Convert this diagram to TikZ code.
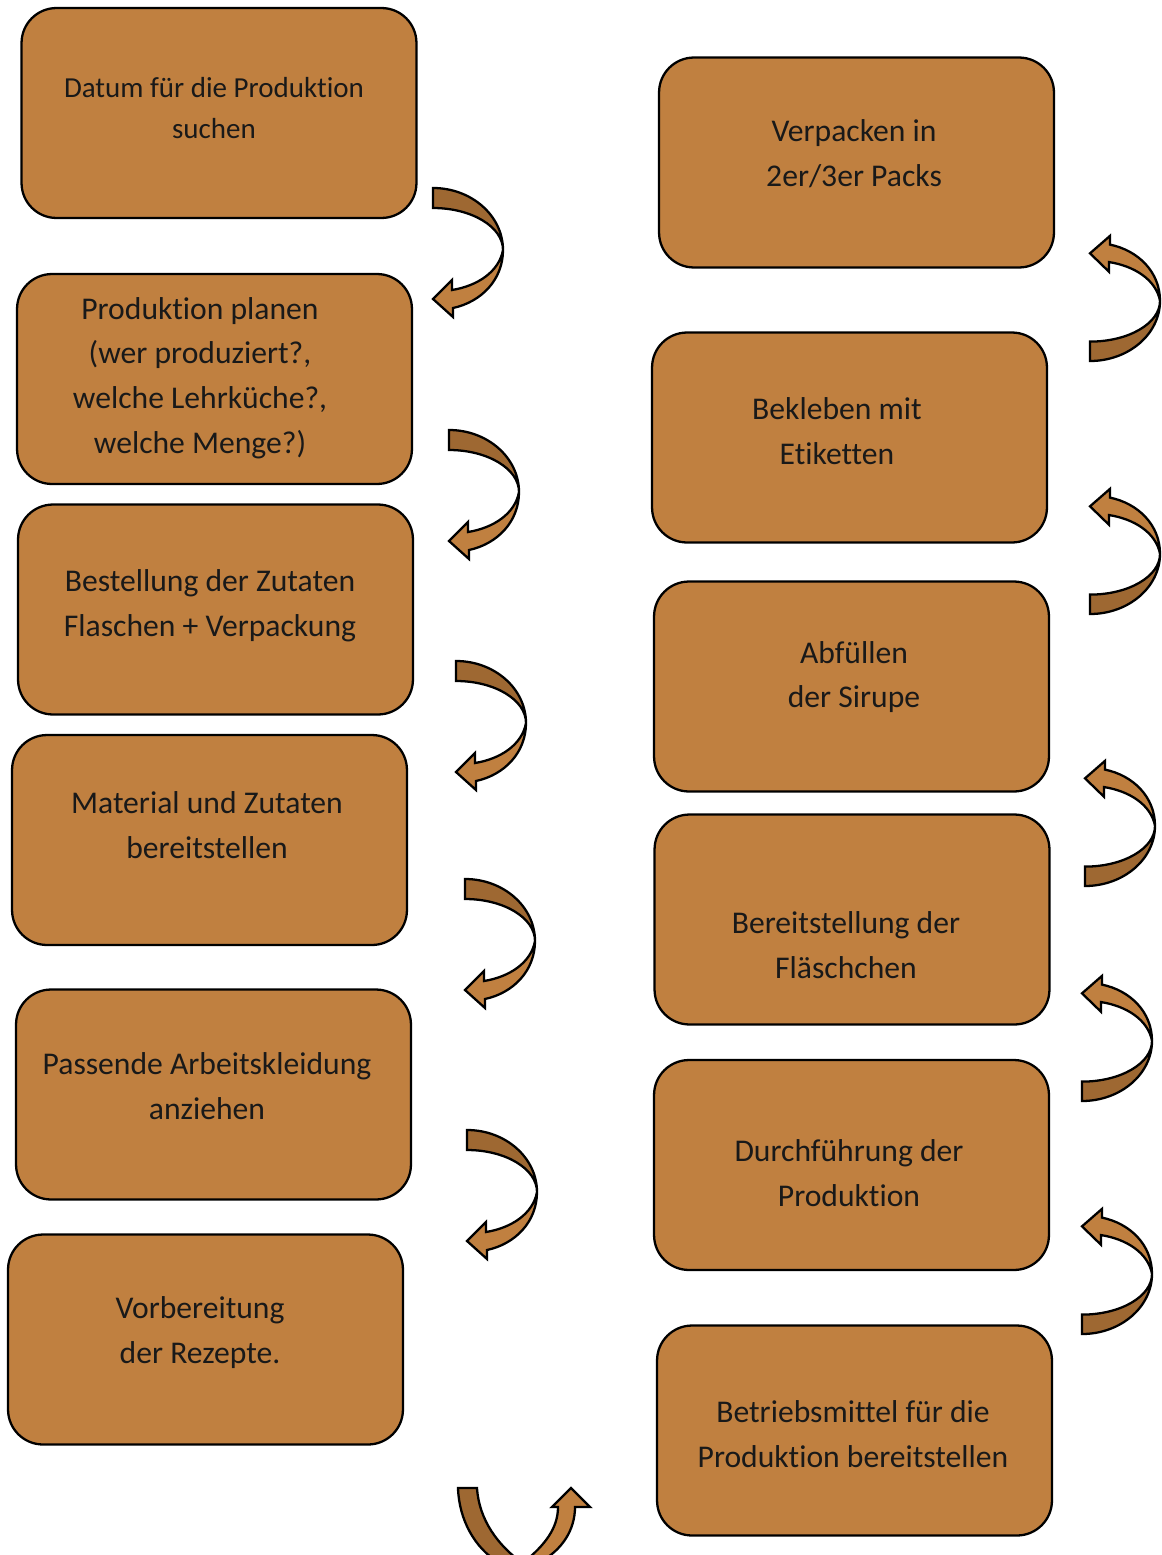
\documentclass[tikz,border=0pt]{standalone}
\usepackage{fontspec}
\setmainfont{Carlito}[Ligatures=NoCommon]

\definecolor{boxcolor}{RGB}{192,128,64}
\definecolor{arrowdark}{RGB}{158,104,50}

\begin{document}
\begin{tikzpicture}[x=0.02cm, y=-0.02cm,
  stepbox/.style={draw, line width=1.3pt, fill=boxcolor, rounded corners=0.7cm,
    minimum width=7.9cm, minimum height=4.2cm},
  steptext/.style={align=center, text=black!90, font=\fontsize{18}{25.5}\selectfont},
  turn/.pic={
    \draw[line width=1.3pt, fill=arrowdark] (0,0) .. controls (38.6,0) and (70,27.8) .. (70,62)
      .. controls (70,38.8) and (38.6,20) .. (0,20) -- cycle;
    \draw[line width=1.3pt, fill=boxcolor] (70,62) .. controls (70,92) and (48,114) .. (20,120)
      -- (20,129) -- (0,111) -- (19,92) -- (19,102) .. controls (44,98) and (66,84) .. (70,62) -- cycle;
  }]
\useasboundingbox (0,0) rectangle (1161,1555);

% left column
\node[stepbox] (datum) at (219,113) {};
\node[steptext, font=\fontsize{16.5}{23.2}\selectfont] (datumtext) at (214,108) {Datum für die Produktion\\suchen};

\node[stepbox] (planen) at (214.5,379) {};
\node[steptext] (planentext) at (200,378) {Produktion planen\\(wer produziert?,\\welche Lehrküche?,\\welche Menge?)};

\node[stepbox] (bestellung) at (215.5,609.5) {};
\node[steptext] (bestellungtext) at (210,605.5) {Bestellung der Zutaten\\Flaschen + Verpackung};

\node[stepbox] (material) at (209.5,840) {};
\node[steptext] (materialtext) at (207,825) {Material und Zutaten\\bereitstellen};

\node[stepbox] (kleidung) at (213.5,1094.5) {};
\node[steptext] (kleidungtext) at (207,1086) {Passende Arbeitskleidung\\anziehen};

\node[stepbox] (rezepte) at (205.5,1339.5) {};
\node[steptext] (rezeptetext) at (200,1332.5) {Vorbereitung\\der Rezepte.};

% right column
\node[stepbox] (verpacken) at (856.5,162.5) {};
\node[steptext] (verpackentext) at (854,153.5) {Verpacken in\\2er/3er Packs};

\node[stepbox] (bekleben) at (849.5,437.5) {};
\node[steptext] (beklebentext) at (837,431) {Bekleben mit\\Etiketten};

\node[stepbox] (abfuellen) at (851.5,686.5) {};
\node[steptext] (abfuellentext) at (854,677) {Abfüllen\\der Sirupe};

\node[stepbox] (flaeschchen) at (852,919.5) {};
\node[steptext] (flaeschchentext) at (846,945.5) {Bereitstellung der\\Fläschchen};

\node[stepbox] (durchfuehrung) at (851.5,1165) {};
\node[steptext] (durchfuehrungtext) at (849,1173) {Durchführung der\\Produktion};

\node[stepbox] (betriebsmittel) at (854.5,1430.5) {};
\node[steptext] (betriebsmitteltext) at (853,1434) {Betriebsmittel für die\\Produktion bereitstellen};

% arrows down the left side
\pic at (433,188) {turn};
\pic at (449,430) {turn};
\pic at (456,661) {turn};
\pic at (465,879) {turn};
\pic at (467,1130) {turn};

% arrows up the right side
\pic[yscale=-0.97] at (1090,361) {turn};
\pic[yscale=-0.97] at (1090,614) {turn};
\pic[yscale=-0.97] at (1085,886) {turn};
\pic[yscale=-0.97] at (1082,1101) {turn};
\pic[yscale=-0.97] at (1082,1334) {turn};

% turn at the bottom
\begin{scope}
\clip (0,0) rectangle (1161,1555);
\draw[line width=1.3pt, fill=arrowdark] (458,1488) .. controls (459,1520) and (475,1548) .. (498,1562)
  -- (521,1562) .. controls (498,1545) and (479,1520) .. (477,1488) -- cycle;
\draw[line width=1.3pt, fill=boxcolor] (524,1562) .. controls (545,1545) and (558,1528) .. (558,1507)
  -- (552,1507) -- (571,1488) -- (590,1507) -- (575,1507) .. controls (575,1530) and (562,1550) .. (540,1562) -- cycle;
\end{scope}
\end{tikzpicture}
\end{document}
